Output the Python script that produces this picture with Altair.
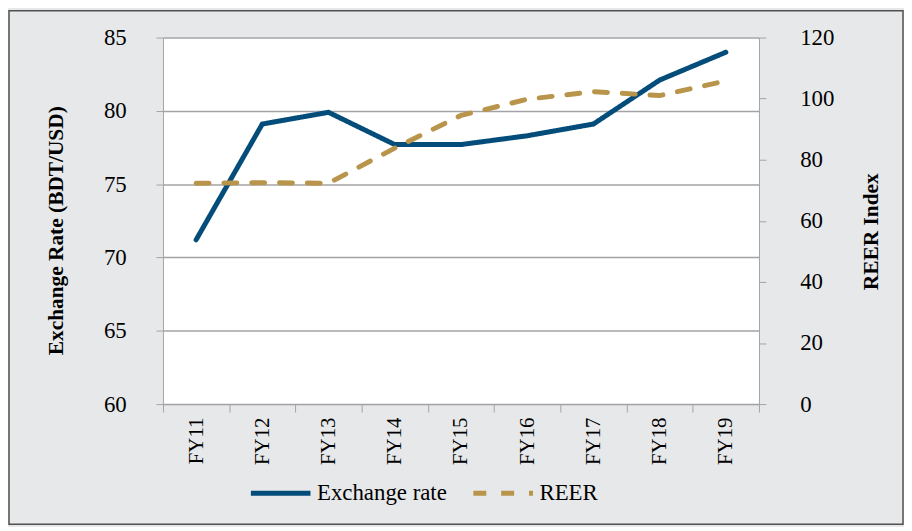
import altair as alt
import pandas as pd

years = ["FY11", "FY12", "FY13", "FY14", "FY15", "FY16", "FY17", "FY18", "FY19"]
exchange_rate = [71.2, 79.1, 79.9, 77.7, 77.7, 78.3, 79.1, 82.1, 84.0]
reer = [72.3, 72.5, 72.3, 83.8, 94.5, 99.8, 102.3, 101.0, 105.8]

series_names = ["Exchange rate", "REER"]
series_colors = ["#044c7a", "#b8954a"]
series_dash = [[1, 0], [13, 15]]

df_ex = pd.DataFrame({"year": years, "value": exchange_rate, "series": series_names[0]})
df_re = pd.DataFrame({"year": years, "value": reer, "series": series_names[1]})

FONT = "Liberation Serif"
GRID = "#a3a3a5"

x_enc = alt.X(
    "year:N",
    sort=years,
    scale=alt.Scale(type="band", paddingInner=0, paddingOuter=0),
    bandPosition=0.5,
    axis=alt.Axis(
        title=None,
        labelAngle=270,
        labelAlign="right",
        labelBaseline="middle",
        labelFontSize=21,
        labelPadding=5,
        tickBand="extent",
        tickSize=8,
        tickColor=GRID,
        domainColor=GRID,
        grid=False,
    ),
)

color_enc = alt.Color(
    "series:N",
    scale=alt.Scale(domain=series_names, range=series_colors),
    legend=alt.Legend(title=None),
)
dash_enc = alt.StrokeDash(
    "series:N",
    scale=alt.Scale(domain=series_names, range=series_dash),
    legend=alt.Legend(title=None),
)

border = alt.Chart(pd.DataFrame({"a": [0]})).mark_rect(
    filled=False, stroke="#505050", strokeWidth=1.5
).encode(
    x=alt.value(-155),
    x2=alt.value(745),
    y=alt.value(-27),
    y2=alt.value(490),
)

ex_line = alt.Chart(df_ex).mark_line(strokeWidth=5, strokeCap="round").encode(
    x=x_enc,
    y=alt.Y(
        "value:Q",
        scale=alt.Scale(domain=[60, 85], nice=False, zero=False),
        axis=alt.Axis(
            title="Exchange Rate (BDT/USD)",
            orient="left",
            values=[60, 65, 70, 75, 80, 85],
            labelFontSize=23,
            labelPadding=30,
            tickSize=7,
            tickColor=GRID,
            domainColor=GRID,
            grid=True,
            gridColor=GRID,
            gridWidth=1.5,
            titleFontSize=21.5,
            titleFontWeight="bold",
            titleAngle=270,
            titleX=-107,
            titleY=194,
            titleAlign="center",
            titleBaseline="middle",
        ),
    ),
    color=color_enc,
    strokeDash=dash_enc,
)

re_line = alt.Chart(df_re).mark_line(strokeWidth=5, strokeCap="round").encode(
    x=x_enc,
    y=alt.Y(
        "value:Q",
        scale=alt.Scale(domain=[0, 120], nice=False),
        axis=alt.Axis(
            title="REER Index",
            orient="right",
            values=[0, 20, 40, 60, 80, 100, 120],
            labelFontSize=23,
            labelPadding=34,
            tickSize=7,
            tickColor=GRID,
            domainColor=GRID,
            grid=False,
            titleFontSize=21.5,
            titleFontWeight="bold",
            titleAngle=270,
            titleX=113,
            titleY=195,
            titleAlign="center",
            titleBaseline="middle",
        ),
    ),
    color=color_enc,
    strokeDash=dash_enc,
)

chart = (
    alt.layer(border, ex_line, re_line)
    .resolve_scale(y="independent")
    .properties(
        width=600,
        height=369,
        autosize=alt.AutoSizeParams(type="none"),
        padding={"left": 156, "top": 28, "right": 146, "bottom": 122},
        background="#e7e8ea",
    )
    .configure_view(fill="white", stroke=None)
    .configure_axis(labelFont=FONT, titleFont=FONT, labelColor="black", titleColor="black")
    .configure_legend(
        orient="none",
        legendX=86,
        legendY=426,
        direction="horizontal",
        padding=0,
        labelFont=FONT,
        labelFontSize=23,
        labelColor="black",
        symbolType="stroke",
        symbolSize=3600,
        symbolStrokeWidth=5,
        columnPadding=16,
        labelOffset=4,
    )
)

chart.save("out.html", embed_options={"renderer": "svg", "actions": False})
